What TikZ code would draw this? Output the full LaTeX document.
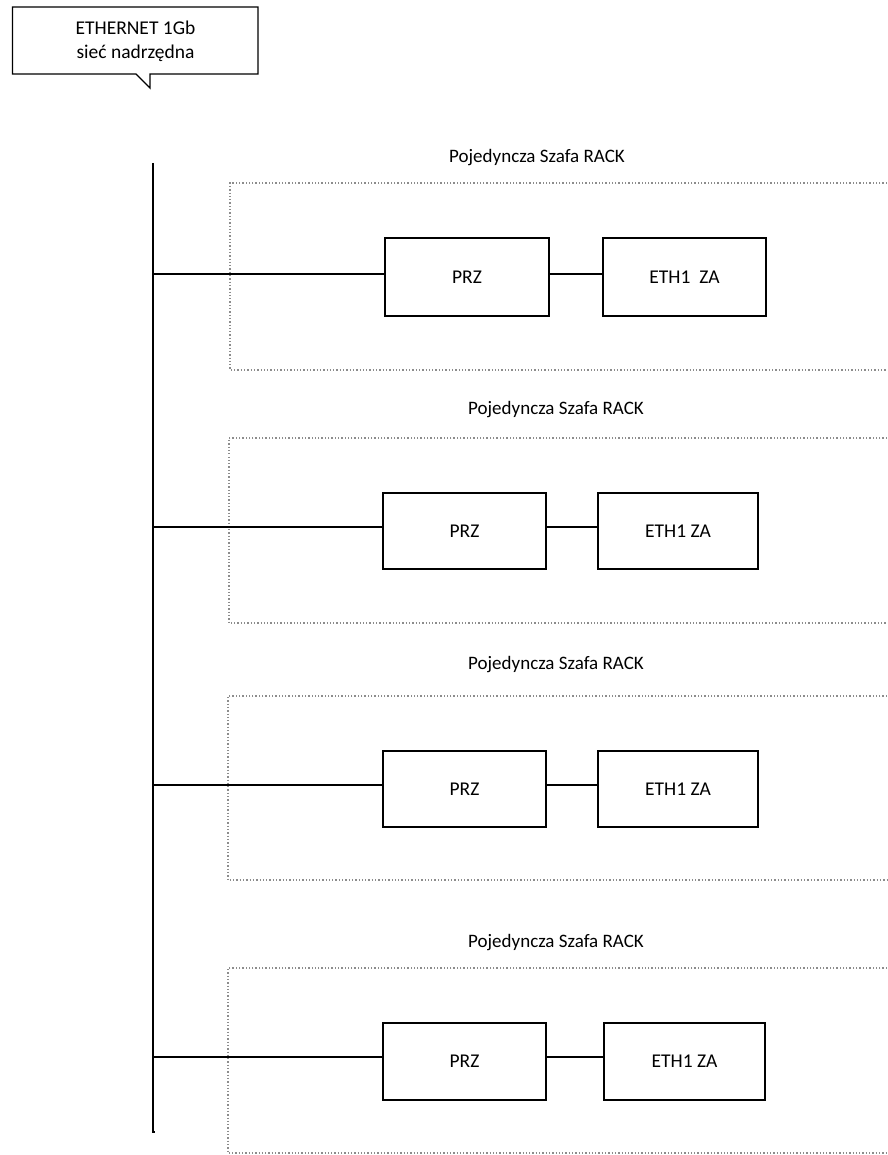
\documentclass[tikz,border=0pt]{standalone}
\usepackage{fontspec}
\setmainfont{Carlito}
\begin{document}
\begin{tikzpicture}[x=1pt,y=-1pt,
  txt/.style={font=\fontsize{19.5}{24}\selectfont, inner sep=0pt},
  dev/.style={draw, line width=1.5pt, minimum height=77pt, font=\fontsize{19.5}{24}\selectfont, inner sep=0pt},
  rack/.style={draw=black!45, line width=1.3pt, dotted},
  wire/.style={line width=1.5pt},
  lbl/.style={font=\fontsize{19}{24}\selectfont, inner sep=0pt}]
\useasboundingbox (0,0) rectangle (887,1155);

% callout
\draw[line width=1.3pt] (12.5,7) -- (258,7) -- (258,74) -- (150,74) -- (150,88) -- (136,74) -- (12.5,74) -- cycle;
\node[txt, align=center] (callout) at (135.5,41) {ETHERNET 1Gb\\[0pt]sieć nadrzędna};

% bus
\coordinate (bustop) at (153,163);
\coordinate (busbot) at (153,1132);
\draw[wire] (bustop) -- (busbot) -- ++(2,0);

% rack frames
\draw[rack] (887,183) -- (230,183) -- (230,370) -- (887,370);
\draw[rack] (887,438) -- (229,438) -- (229,623) -- (887,623);
\draw[rack] (887,696) -- (228,696) -- (228,880) -- (887,880);
\draw[rack] (887,968) -- (228,968) -- (228,1153) -- (887,1153);

% labels
\node[lbl] (l1) at (537,158) {Pojedyncza Szafa RACK};
\node[lbl] (l2) at (556,410) {Pojedyncza Szafa RACK};
\node[lbl] (l3) at (556,665) {Pojedyncza Szafa RACK};
\node[lbl] (l4) at (556,943) {Pojedyncza Szafa RACK};

% devices
\node[dev, minimum width=164pt, minimum height=78pt] (p1) at (467,277) {PRZ};
\node[dev, minimum width=163pt, minimum height=78pt] (e1) at (684.5,277) {ETH1\ \ ZA};
\node[dev, minimum width=163pt, minimum height=76pt] (p2) at (464.5,531) {PRZ};
\node[dev, minimum width=160pt, minimum height=76pt] (e2) at (678,531) {ETH1 ZA};
\node[dev, minimum width=163pt, minimum height=76pt] (p3) at (464.5,789) {PRZ};
\node[dev, minimum width=160pt, minimum height=76pt] (e3) at (678,789) {ETH1 ZA};
\node[dev, minimum width=163pt, minimum height=77pt] (p4) at (464.5,1061.5) {PRZ};
\node[dev, minimum width=161pt, minimum height=77pt] (e4) at (684.5,1061.5) {ETH1 ZA};

% junctions on bus
\coordinate (b1) at (153,274);
\coordinate (b2) at (153,527);
\coordinate (b3) at (153,785);
\coordinate (b4) at (153,1057);

\foreach \i in {1,2,3,4}{
  \draw[wire] (b\i) -- (b\i -| p\i.west);
  \draw[wire] (p\i.east |- b\i) -- (e\i.west |- b\i);
}
\end{tikzpicture}
\end{document}
